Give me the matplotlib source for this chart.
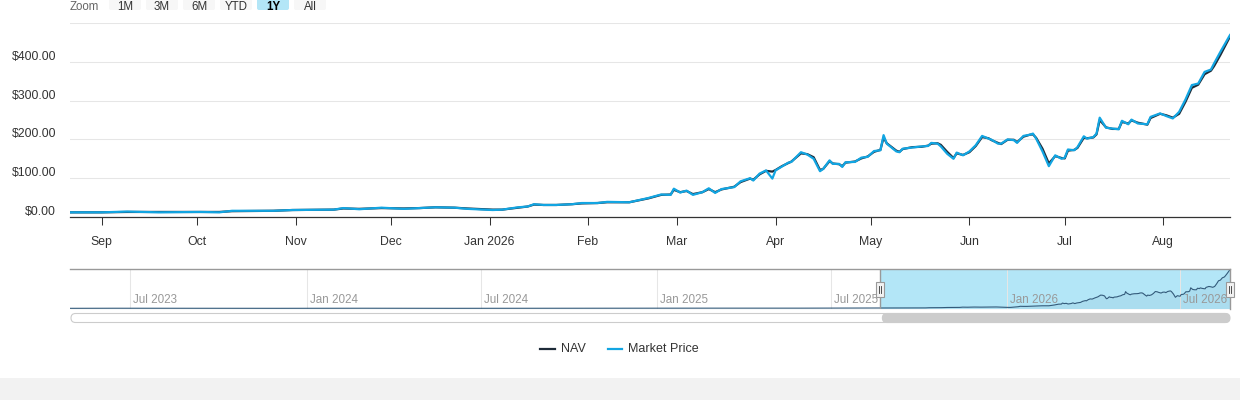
import matplotlib
matplotlib.use("Agg")
import matplotlib.pyplot as plt
import matplotlib.dates as mdates
import matplotlib.transforms as mtransforms
from matplotlib.patches import FancyBboxPatch, Rectangle
import datetime as dt

plt.rcParams['font.family'] = ['Liberation Sans', 'DejaVu Sans']

# ---------------- data ----------------
dates = [
    "2025-08-22", "2025-09-01", "2025-09-09", "2025-09-19", "2025-10-02", "2025-10-08",
    "2025-10-12", "2025-10-25", "2025-10-31", "2025-11-13", "2025-11-16", "2025-11-21",
    "2025-11-28", "2025-12-05", "2025-12-10", "2025-12-15", "2025-12-21", "2025-12-25",
    "2026-01-02", "2026-01-05", "2026-01-10", "2026-01-13", "2026-01-15", "2026-01-18",
    "2026-01-22", "2026-01-27", "2026-01-30", "2026-02-04", "2026-02-07", "2026-02-14",
    "2026-02-20", "2026-02-24", "2026-02-27", "2026-02-28", "2026-03-02", "2026-03-04",
    "2026-03-06", "2026-03-09", "2026-03-11", "2026-03-13", "2026-03-15", "2026-03-19",
    "2026-03-21", "2026-03-24", "2026-03-25", "2026-03-27", "2026-03-29", "2026-03-31",
    "2026-04-01", "2026-04-03", "2026-04-05", "2026-04-06", "2026-04-09", "2026-04-11",
    "2026-04-13", "2026-04-15", "2026-04-16", "2026-04-18", "2026-04-19", "2026-04-21",
    "2026-04-22", "2026-04-23", "2026-04-26", "2026-04-28", "2026-04-30", "2026-05-02",
    "2026-05-04", "2026-05-05", "2026-05-06", "2026-05-09", "2026-05-10", "2026-05-11",
    "2026-05-14", "2026-05-17", "2026-05-19", "2026-05-20", "2026-05-22", "2026-05-23",
    "2026-05-25", "2026-05-27", "2026-05-28", "2026-05-30", "2026-06-01", "2026-06-03",
    "2026-06-05", "2026-06-07", "2026-06-08", "2026-06-10", "2026-06-11", "2026-06-13",
    "2026-06-15", "2026-06-16", "2026-06-18", "2026-06-20", "2026-06-21", "2026-06-22",
    "2026-06-24", "2026-06-26", "2026-06-28", "2026-06-30", "2026-07-01", "2026-07-02",
    "2026-07-04", "2026-07-05", "2026-07-07", "2026-07-08", "2026-07-10", "2026-07-11",
    "2026-07-12", "2026-07-14", "2026-07-16", "2026-07-18", "2026-07-19", "2026-07-21",
    "2026-07-22", "2026-07-24", "2026-07-27", "2026-07-28", "2026-07-31", "2026-08-02",
    "2026-08-04", "2026-08-06", "2026-08-08", "2026-08-10", "2026-08-12", "2026-08-14",
    "2026-08-16", "2026-08-17", "2026-08-19", "2026-08-22",
]
market_price = [
    12, 12, 14, 12, 13, 12,
    16, 16, 18, 19, 23, 20,
    24, 21, 23, 25, 24, 21,
    18, 19, 25, 27, 33, 31,
    31, 33, 36, 36, 39, 38,
    49, 58, 57, 73, 63, 68,
    57, 64, 74, 62, 72, 77,
    92, 100, 94, 112, 120, 99,
    120, 130, 140, 142, 167, 161,
    150, 118, 124, 146, 137, 137,
    129, 141, 142, 153, 155, 170,
    172, 211, 189, 169, 167, 176,
    179, 182, 183, 191, 189, 182,
    163, 150, 166, 159, 169, 185,
    209, 202, 199, 189, 189, 200,
    198, 191, 209, 212, 215, 202,
    169, 131, 159, 150, 153, 174,
    172, 180, 208, 202, 206, 215,
    256, 230, 228, 226, 248, 239,
    251, 241, 239, 258, 267, 260,
    254, 271, 303, 340, 344, 374,
    380, 396, 426, 469,
]
nav = [
    12, 12, 13, 13, 13, 13,
    15, 16, 18, 19, 22, 21,
    23, 22, 23, 25, 24, 22,
    19, 19, 24, 27, 32, 31,
    31, 33, 35, 36, 38, 38,
    48, 57, 58, 70, 64, 67,
    59, 64, 72, 64, 71, 78,
    90, 99, 96, 110, 119, 117,
    121, 131, 139, 143, 164, 162,
    154, 121, 124, 144, 138, 136,
    131, 140, 143, 151, 156, 168,
    173, 205, 190, 171, 168, 175,
    180, 181, 184, 189, 190, 186,
    168, 152, 164, 160, 167, 183,
    206, 203, 198, 191, 188, 199,
    199, 193, 207, 212, 213, 204,
    176, 138, 157, 152, 151, 171,
    173, 178, 204, 203, 205, 213,
    250, 231, 227, 227, 245, 241,
    249, 243, 238, 255, 266, 262,
    256, 266, 297, 333, 341, 368,
    377, 389, 418, 465,
]
assert len(dates) == len(market_price) == len(nav)

# longer history shown only in the navigator
hist_dates = ["2023-04-29", "2023-06-15", "2023-09-01", "2023-12-01", "2024-03-01",
              "2024-06-01", "2024-09-01", "2024-12-01", "2025-03-01", "2025-06-01",
              "2025-08-21"]
hist_nav = [8, 9, 8, 8, 9, 8, 9, 9, 10, 10, 12]

y_ticks = [0, 100, 200, 300, 400, 500]
y_tick_labels = ["$0.00", "$100.00", "$200.00", "$300.00", "$400.00", ""]
month_ticks = ["2025-09-01", "2025-10-01", "2025-11-01", "2025-12-01", "2026-01-01",
               "2026-02-01", "2026-03-01", "2026-04-01", "2026-05-01", "2026-06-01",
               "2026-07-01", "2026-08-01"]
month_labels = ["Sep", "Oct", "Nov", "Dec", "Jan 2026", "Feb", "Mar", "Apr", "May",
                "Jun", "Jul", "Aug"]
nav_ticks = ["2023-07-01", "2024-01-01", "2024-07-01", "2025-01-01", "2025-07-01",
             "2026-01-01", "2026-07-01"]
nav_tick_labels = ["Jul 2023", "Jan 2024", "Jul 2024", "Jan 2025", "Jul 2025",
                   "Jan 2026", "Jul 2026"]
range_buttons = ["1M", "3M", "6M", "YTD", "1Y", "All"]
selected_button = "1Y"
view_start, view_end = "2025-08-22", "2026-08-22"
nav_start = "2023-04-29"
series_names = ["NAV", "Market Price"]

NAV_COLOR = "#1e2b38"
MP_COLOR = "#12a5e2"

def d(s):
    return dt.datetime.strptime(s, "%Y-%m-%d")

x = [d(s) for s in dates]

# ---------------- figure ----------------
W, H = 1240, 400
fig = plt.figure(figsize=(W / 100, H / 100), dpi=100)
fig.patch.set_facecolor("white")

def rect(x0, y0, x1, y1):
    return [x0 / W, 1 - y1 / H, (x1 - x0) / W, (y1 - y0) / H]

FS = 8.8

# main axes
ax = fig.add_axes(rect(70, 23, 1230, 217))
ax.plot(x, nav, color=NAV_COLOR, lw=1.6, solid_joinstyle="round", zorder=3)
ax.plot(x, market_price, color=MP_COLOR, lw=1.6, solid_joinstyle="round", zorder=4)
ax.set_xlim(d(view_start), d(view_end))
ax.set_ylim(0, 500)
ax.set_yticks(y_ticks)
ax.set_yticklabels(y_tick_labels)
ax.yaxis.grid(True, color="#e6e6e6", lw=0.75)
ax.set_axisbelow(True)
ax.tick_params(axis="y", length=0, pad=10, labelsize=FS, labelcolor="#333333")
off = mtransforms.ScaledTranslation(0, 6.5 / 100, fig.dpi_scale_trans)
for lab in ax.get_yticklabels():
    lab.set_transform(lab.get_transform() + off)
ax.set_xticks([d(s) for s in month_ticks])
ax.set_xticklabels(month_labels)
ax.tick_params(axis="x", length=6, width=0.75, color="#333333", pad=8,
               labelsize=FS, labelcolor="#333333")
for s in ["top", "right", "left"]:
    ax.spines[s].set_visible(False)
ax.spines["bottom"].set_color("#333333")
ax.spines["bottom"].set_linewidth(0.9)

# navigator axes
nax = fig.add_axes(rect(70, 269, 1230, 309))
nx = [d(s) for s in hist_dates] + x
ny = hist_nav + nav
nax.set_xlim(d(nav_start), d(view_end))
nax.set_ylim(0, 472)
nax.axvspan(d(view_start), d(view_end), color="#b3e6f7", zorder=0, lw=0)
for t in nav_ticks:
    nax.axvline(d(t), color="#e6e6e6", lw=0.75, zorder=1)
nax.fill_between(nx, ny, 0, color="#335a7a", alpha=0.06, lw=0, zorder=2)
nax.plot(nx, ny, color="#335a7a", lw=0.8, zorder=3)
lab_off = mtransforms.ScaledTranslation(3 / 100, 0, fig.dpi_scale_trans)
btr = mtransforms.blended_transform_factory(nax.transData, nax.transAxes)
for t, lab in zip(nav_ticks, nav_tick_labels):
    nax.text(d(t), 0.07, lab, transform=btr + lab_off, ha="left", va="bottom",
             fontsize=8.4, color="#999999", zorder=4)
nax.set_xticks([])
nax.set_yticks([])
for s in nax.spines.values():
    s.set_visible(False)
nax.axhline(472, color="#999999", lw=1.0, zorder=5, clip_on=False)
nax.axvline(d(view_start), color="#999999", lw=1.0, zorder=5)
nax.axvline(d(view_end), color="#999999", lw=1.0, zorder=5, clip_on=False)

# overlay for UI chrome
ov = fig.add_axes([0, 0, 1, 1])
ov.set_xlim(0, W)
ov.set_ylim(H, 0)
ov.axis("off")
ov.set_zorder(10)

sel_x0 = nax.transData.transform((mdates.date2num(d(view_start)), 0))[0]
sel_x1 = nax.transData.transform((mdates.date2num(d(view_end)), 0))[0]

# handles
for hx in (sel_x0, sel_x1):
    ov.add_patch(Rectangle((hx - 4, 282), 8, 15, facecolor="#f2f2f2",
                           edgecolor="#999999", lw=0.8))
    ov.plot([hx - 1, hx - 1], [286, 293], color="#333333", lw=0.6)
    ov.plot([hx + 1, hx + 1], [286, 293], color="#333333", lw=0.6)

# scrollbar
ov.add_patch(FancyBboxPatch((71, 313.5), 1158, 9, boxstyle="round,pad=0,rounding_size=4.5",
                            facecolor="white", edgecolor="#cccccc", lw=0.8))
ov.add_patch(FancyBboxPatch((sel_x0 + 2, 313.5), sel_x1 - sel_x0 - 2, 9,
                            boxstyle="round,pad=0,rounding_size=4.5",
                            facecolor="#cccccc", edgecolor="#cccccc", lw=0.8))

# range selector at the top edge
ov.text(70, 0.5, "Zoom", fontsize=8.3, color="#666666", ha="left", va="top")
bx = 109
for b in range_buttons:
    sel = (b == selected_button)
    ov.add_patch(FancyBboxPatch((bx, -14), 32, 24, boxstyle="round,pad=0,rounding_size=2",
                                facecolor="#b3e6f7" if sel else "#f7f7f7", edgecolor="none"))
    ov.text(bx + 16, 0.5, b, fontsize=8.3, color="#000000" if sel else "#333333",
            ha="center", va="top", fontweight="bold" if sel else "normal")
    bx += 37

# legend
ov.plot([540, 555], [349, 349], color=NAV_COLOR, lw=1.6)
ov.text(561, 349, series_names[0], fontsize=9, color="#333333", ha="left", va="center")
ov.plot([608, 622], [349, 349], color=MP_COLOR, lw=1.6)
ov.text(628, 349, series_names[1], fontsize=9, color="#333333", ha="left", va="center")

# bottom band
ov.add_patch(Rectangle((0, 378), W, 22, facecolor="#f2f2f2", edgecolor="none"))

fig.savefig("out.png", dpi=100)
